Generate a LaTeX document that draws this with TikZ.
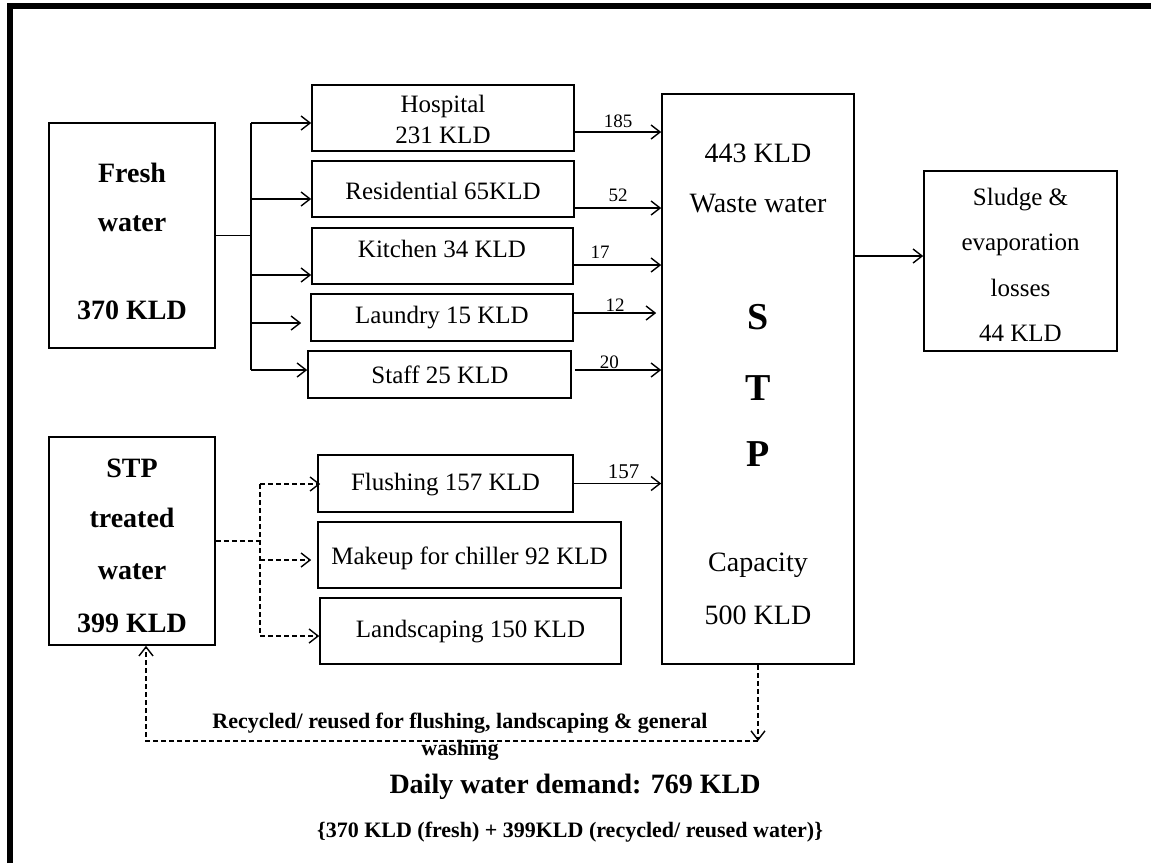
\documentclass[tikz,border=0pt]{standalone}
\usepackage{fontspec}
\setmainfont{Liberation Serif}
\usetikzlibrary{arrows.meta}
\tikzset{
	box/.style={draw, line width=0.8pt, inner sep=0pt},
	wire/.style={line width=0.7pt},
	dwire/.style={wire, dash pattern=on 2.5pt off 1.5pt},
	flow/.style={wire, -{Straight Barb[length=4.5pt,width=7pt]}},
	reuse/.style={flow, dash pattern=on 2.5pt off 1.5pt},
	txt/.style={inner sep=0pt, align=center, font=\fontsize{12.5}{15.5}\selectfont},
	stptxt/.style={inner sep=0pt, align=center, font=\fontsize{14}{17}\selectfont},
	bigtxt/.style={inner sep=0pt, align=center, font=\bfseries\fontsize{14}{17}\selectfont},
	huge/.style={inner sep=0pt, font=\bfseries\fontsize{19}{22}\selectfont},
	note/.style={inner sep=0pt, align=center, font=\bfseries\fontsize{11}{13.5}\selectfont},
	num/.style={inner sep=2pt, font=\fontsize{9.5}{11}\selectfont}
}
\begin{document}
\begin{tikzpicture}[x=0.5pt, y=-0.5pt]
	\useasboundingbox (0,0) rectangle (1151,863);
	% Rahmen
	\draw[line width=3pt] (10,863) -- (10,6) -- (1151,6);

	% Kaesten
	\node[box, minimum width=83pt, minimum height=112.5pt] (fresh) at (132,235.5) {};
	\node[box, minimum width=83pt, minimum height=104pt] (treated) at (132,541) {};
	\node[box, minimum width=131pt, minimum height=33pt] (hosp) at (443,118) {};
	\node[box, minimum width=131pt, minimum height=28pt] (resi) at (443,189) {};
	\node[box, minimum width=130.5pt, minimum height=28pt] (kitch) at (442.5,256) {};
	\node[box, minimum width=131pt, minimum height=23.5pt] (laund) at (442,317.5) {};
	\node[box, minimum width=131.5pt, minimum height=23.5pt] (staff) at (439.5,374.5) {};
	\node[box, minimum width=127.5pt, minimum height=28.5pt] (flush) at (445.5,483.5) {};
	\node[box, minimum width=151.5pt, minimum height=33pt] (chill) at (469.5,555) {};
	\node[box, minimum width=150.5pt, minimum height=33pt] (land) at (470.5,631) {};
	\node[box, minimum width=96pt, minimum height=285pt] (stp) at (758,379) {};
	\node[box, minimum width=96.5pt, minimum height=90pt] (sludge) at (1020.5,261) {};

	% Beschriftungen
	\node[bigtxt] (freshtxt) at (132,173) {Fresh};
	\node[bigtxt] (watertxt) at (132,224) {water};
	\node[bigtxt] (freshkld) at (132,310) {370 KLD};
	\node[bigtxt] (stptop) at (132,468) {STP};
	\node[bigtxt] (treatedtxt) at (132,518) {treated};
	\node[bigtxt] (twatertxt) at (132,572) {water};
	\node[bigtxt] (treatedkld) at (132,623) {399 KLD};
	\node[txt] (hosptxt) at (443,119.5) {Hospital\\231 KLD};
	\node[txt] (resitxt) at (443,191) {Residential 65KLD};
	\node[txt] (kitchtxt) at (442,249) {Kitchen 34 KLD};
	\node[txt] (laundtxt) at (442,318) {Laundry 15 KLD};
	\node[txt] (stafftxt) at (440,375) {Staff 25 KLD};
	\node[txt] (flushtxt) at (445.5,485) {Flushing 157 KLD};
	\node[txt] (chilltxt) at (469.5,558) {Makeup for chiller 92 KLD};
	\node[txt] (landtxt) at (470.5,632) {Landscaping 150 KLD};
	\node[stptxt] (wwkld) at (758,153) {443 KLD};
	\node[stptxt] (wwtxt) at (758,204) {Waste water};
	\node[huge] (stps) at (758,317) {S};
	\node[huge] (stpt) at (758,388) {T};
	\node[huge] (stpp) at (758,454) {P};
	\node[stptxt] (captxt) at (758,565) {Capacity};
	\node[stptxt] (capkld) at (758,615) {500 KLD};
	\node[txt, font=\fontsize{12.5}{22.7}\selectfont] (sludgetxt) at (1020.5,265)
		{Sludge \&\\evaporation\\losses\\44 KLD};

	% Frischwasser verteilen
	\coordinate (fb1) at (251,123);
	\coordinate (fb2) at (251,199);
	\coordinate (fb3) at (251,275);
	\coordinate (fb4) at (251,323);
	\coordinate (fb5) at (251,370);
	\draw[wire] (fresh.east) -- (fresh.east -| fb1);
	\draw[wire] (fb1) -- (fb5);
	\draw[flow] (fb1) -- (fb1 -| hosp.west);
	\draw[flow] (fb2) -- (fb2 -| resi.west);
	\draw[flow] (fb3) -- (fb3 -| kitch.west);
	\draw[flow] (fb4) -- ([xshift=-4.5pt]fb4 -| laund.west);
	\draw[flow] (fb5) -- (fb5 -| staff.west);

	% Abwasser zur STP
	\draw[flow] ([yshift=-7pt]hosp.east) -- ([yshift=-7pt]hosp.east -| stp.west)
		node[num, midway, above] {185};
	\draw[flow] ([yshift=-9.5pt]resi.east) -- ([yshift=-9.5pt]resi.east -| stp.west)
		node[num, midway, above, yshift=1pt] {52};
	\draw[flow] ([yshift=-4.5pt]kitch.east) -- ([yshift=-4.5pt]kitch.east -| stp.west)
		node[num, pos=0.3, above, yshift=1pt] {17};
	\draw[flow] ([yshift=2.25pt]laund.east) -- ([xshift=-2.5pt, yshift=2.25pt]laund.east -| stp.west)
		node[num, midway, above, inner sep=0.5pt] {12};
	\draw[flow] ([xshift=1.5pt, yshift=2.25pt]staff.east) -- ([yshift=2.25pt]staff.east -| stp.west)
		node[num, pos=0.4, above, inner sep=0.5pt] {20};
	\draw[flow] (flush.east) -- (flush.east -| stp.west)
		node[num, pos=0.57, above, font=\fontsize{10.5}{12}\selectfont] {157};
	\draw[flow] ([yshift=2.5pt]stp.east |- sludge.west) -- ([yshift=2.5pt]sludge.west);

	% Aufbereitetes Wasser verteilen
	\coordinate (tb1) at (260,484);
	\coordinate (tb2) at (260,560);
	\coordinate (tb3) at (260,636);
	\draw[dwire] (treated.east) -- (treated.east -| tb1);
	\draw[dwire] (tb1) -- (tb3);
	\draw[reuse] (tb1) -- ([xshift=1.5pt]tb1 -| flush.west);
	\draw[reuse] (tb2) -- ([xshift=-3pt]tb2 -| chill.west);
	\draw[reuse] (tb3) -- (tb3 -| land.west);

	% Rueckfuehrung
	\coordinate (rc) at (758,741);
	\coordinate (lc) at (146,741);
	\draw[reuse] (stp.south) -- (rc);
	\draw[reuse] (rc) -- (lc) -- (lc |- treated.south);
	\node[note] (recytxt) at (460,737)
		{Recycled/ reused for flushing, landscaping \& general\\washing};

	% Bedarf
	\node[note, font=\bfseries\fontsize{14}{17}\selectfont] (demand) at (575,787)
		{Daily water demand: 769 KLD};
	\node[note] (demandsum) at (570,832)
		{\{370 KLD (fresh) + 399KLD (recycled/ reused water)\}};
\end{tikzpicture}
\end{document}
